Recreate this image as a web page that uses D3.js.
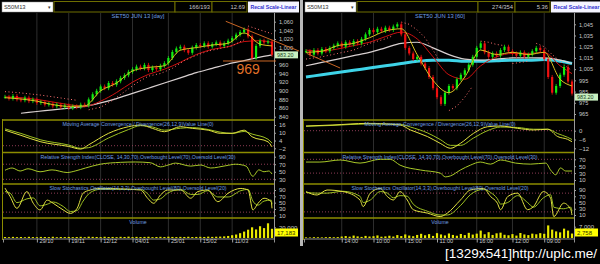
<!DOCTYPE html>
<html>
<head>
<meta charset="utf-8">
<script src="https://cdn.jsdelivr.net/npm/d3@7"></script>
<style>
body { margin: 0; background: #000; overflow: hidden; }
svg { display: block; }
text { font-family: Arial, "Liberation Sans", sans-serif; }
</style>
</head>
<body>
<svg id="chart" width="600" height="264"></svg>
<script>
// ---- left panel: daily bars ----
var leftClose = [886, 882, 888, 880, 878, 884, 876, 880, 872, 874,
                 868, 870, 864, 868, 862, 866, 860, 864, 862, 868,
                 866, 880, 892, 900, 910, 906, 918, 914, 922, 930,
                 936, 944, 950, 956, 952, 960, 948, 954, 950, 958,
                 964, 976, 990, 998, 1002, 994, 988, 1000, 1006, 1004,
                 1010, 1002, 1008, 1012, 1004, 1010, 1016, 1022, 1030, 1036,
                 1042, 1026, 976, 1004, 1016, 1012, 1014, 983.2]
var leftVolume = [1800, 1500, 2100, 1600, 1900, 1400, 2200, 1700, 1500, 2000,
                  1800, 1600, 2300, 1500, 1900, 1700, 2000, 1600, 1800, 2200,
                  1500, 2400, 2100, 1900, 1700, 2300, 1800, 2000, 1600, 2200,
                  1900, 2500, 1700, 2100, 1800, 2000, 2300, 1600, 1900, 2200,
                  1800, 2400, 2000, 1700, 2100, 1900, 2300, 1800, 2000, 2200,
                  1900, 2500, 2100, 2400, 2600, 3000, 3800, 5200, 6500, 9000,
                  12000, 15500, 20000, 16000, 22000, 18500, 27500, 17183]
var knots = [0, 4, 8, 12, 16, 20, 24, 28, 32, 36, 40, 44, 48, 52, 56, 60, 64, 67]
var leftFast = [884, 881, 876, 868, 864, 865, 900, 918, 946, 954, 958, 994, 1000, 1006, 1010, 1034, 1008, 1004]
var leftSlow = [886, 884, 880, 874, 868, 864, 876, 896, 920, 938, 950, 966, 984, 996, 1002, 1014, 1016, 1012]
var leftLong = [null, 848, 852, 856, 860, 864, 872, 882, 894, 906, 918, 930, 942, 952, 962, 970, 978, 983]
var leftSarIdx = [0, 3, 6, 9, 12, 15, 18, 20, 21, 24, 27, 30, 33, 36, 39, 42, 45, 48, 51, 54, 57, 60, 60.5, 61, 63, 65, 67]
var leftSar = [898, 896, 893, 890, 886, 882, 878, null, 856, 862, 878, 898, 918, 934, 940, 952, 970, 982, 992, 998, 1004, 1018, null, 1050, 1044, 1038, 1032]
var leftMacdIdx = [0, 4, 9, 16, 19, 21, 26, 31, 34, 37, 40, 44, 47, 51, 54, 57, 60, 62, 66, 67]
var leftMacd = [12, 8, 3, -0.6, -2.6, 0.7, 9.6, 14.7, 16, 13.4, 10.8, 14.7, 13.4, 12, 9.6, 9.6, 12, 6.9, 3, -0.9]
var leftSignal = [13, 9.5, 4.5, 0.5, -2, -1.5, 6, 12.5, 15.5, 14.5, 12, 13.5, 14, 12.5, 10.5, 9.5, 11, 9, 5, 2]
var leftRsiIdx = [0, 1.8, 3.8, 5.8, 8.8, 11.8, 15.6, 17.6, 20.2, 23.9, 29, 32.7, 36.5, 39, 41, 42.8, 46.6, 49.1, 51.6, 55.4, 57.9, 60.5, 62.2, 63.7, 65, 66.2, 67]
var leftRsi = [54, 60, 52, 58, 50, 55, 48, 52, 60, 70, 75, 76, 74, 63, 68, 73, 65, 68, 60, 66, 70, 65, 38, 55, 50, 52, 44]
var leftStochIdx = [0, 1.3, 3, 5.5, 7.1, 8.8, 10.6, 12.1, 14.6, 16.4, 18.1, 19.6, 21.4, 23.9, 34, 35.8, 37.3, 39, 40.8, 44.1, 46.6, 48.4, 50.9, 53.4, 56, 59.2, 61, 62.2, 63.5, 65, 66.8, 67]
var leftStochK = [96, 69, 32, 85, 48, 27, 58, 48, 27, 16, 32, 80, 90, 95, 90, 64, 48, 74, 90, 90, 64, 85, 90, 53, 80, 95, 90, 27, 48, 64, 53, 32]
var leftStochD = [85, 80, 50, 62, 65, 40, 45, 52, 38, 22, 25, 55, 82, 92, 92, 78, 58, 62, 80, 92, 76, 76, 88, 68, 68, 88, 92, 55, 42, 55, 58, 45]
var leftDateIdx = [8, 16, 24, 32, 41, 49, 57]
var leftDates = ["29/10", "19/11", "12/12", "04/01", "25/01", "15/02", "11/03"]
// 980 sits under the last-price box, so it is not shown
var leftPriceTicks = [840, 860, 880, 900, 920, 940, 960, 1000, 1020, 1040, 1060]

// ---- right panel: 60 minute bars ----
var rightClose = [1021, 1018, 1022, 1019, 1023, 1021, 1024, 1026, 1028, 1025,
                  1029, 1027, 1030, 1028, 1032, 1036, 1040, 1038, 1041, 1039,
                  1042, 1040, 1043, 1045, 1036, 1024, 1019, 1014, 1016, 1010,
                  1006, 998, 988, 980, 974, 984, 990, 988, 996, 1000,
                  1004, 1009, 1016, 1024, 1028, 1020, 1016, 1019, 1017, 1022,
                  1025, 1021, 1019, 1017, 1020, 1016, 1018, 1021, 1024, 1022,
                  1014, 998, 984, 990, 1000, 1007, 994, 983.2]
var rightVolume = [400, 350, 500, 450, 380, 520, 600, 480, 550, 900,
                   1200, 800, 1500, 1000, 700, 1300, 900, 1100, 1600, 800,
                   1000, 1400, 900, 1800, 1200, 2200, 1500, 1100, 1900, 2600,
                   1700, 2400, 1300, 3000, 2200, 1600, 2800, 1900, 1400, 2500,
                   1800, 3200, 2100, 2700, 4600, 2300, 3600, 1900, 2900, 3300,
                   2000, 1700, 2400, 1500, 3100, 2200, 1800, 2700, 2300, 3000,
                   2600, 7800, 5200, 4100, 3500, 5800, 4600, 2758]
var rightFast = [1020, 1021, 1026, 1028, 1033, 1039, 1041, 1018, 995, 984, 998, 1022, 1018, 1020, 1018, 1020, 996, 990]
var rightSlow = [1022, 1021, 1023, 1026, 1029, 1034, 1038, 1032, 1016, 1000, 996, 1008, 1016, 1019, 1019, 1020, 1008, 1001]
var rightLong = [1008, 1011, 1014, 1017, 1020, 1024, 1028, 1029, 1024, 1018, 1014, 1013, 1014, 1015, 1015, 1015, 1013, 1010]
var rightCyan = [998, 1000, 1002, 1004, 1006, 1008, 1010, 1012, 1013, 1013, 1012, 1012, 1012.5, 1013, 1013, 1013.5, 1012, 1010]
var rightSarIdx = [0, 4, 8, 12, 16, 20, 22, 23, 24, 26, 28, 30, 32, 34, 35, 36, 38, 40, 42, 43, 44, 46, 48, 50, 51, 52, 54, 56, 57, 58, 60, 62, 64, 66, 67]
var rightSar = [1014, 1016, 1019, 1022, 1028, 1032, 1035, null, 1047, 1045, 1040, 1033, 1022, 1010, null, 968, 972, 980, 990, null, 1030, 1029, 1027, 1026, null, 1010, 1011, 1012, null, 1028, 1025, 1018, 1012, 1006, 1004]
var rightMacdIdx = [0, 6.8, 15.4, 23.7, 26.3, 30.6, 33.8, 36.4, 38.9, 42.2, 45.7, 49, 53.3, 57.3, 60.9, 63.4, 65.9, 67]
var rightMacd = [3.2, 3.9, 5, 3.9, 0.5, -4, -8.6, -12, -8.6, -1.8, 2.7, 3.2, 1.6, 0.5, 1, -4, -5.9, -7.5]
var rightSignal = [3, 3.6, 4.6, 4.4, 2.5, -1.5, -6, -10, -10, -5, 0, 2.5, 2.2, 1, 1, -2, -4.5, -6]
var rightRsiIdx = [0, 3.5, 8.6, 13.6, 18.7, 21.2, 23.7, 28.8, 33.8, 35.1, 36.4, 38.9, 41.4, 43.9, 46.5, 49, 52.8, 56.6, 60.4, 61.6, 62.9, 64.1, 65.4, 67]
var rightRsi = [62, 62, 68, 59, 70, 70, 53, 39, 30, 19, 22, 39, 53, 62, 56, 68, 59, 56, 59, 39, 25, 45, 36, 36]
var rightStochIdx = [0, 2.8, 5.3, 9.3, 13.6, 14.4, 16.2, 18.7, 20.5, 22, 23.7, 25.5, 27, 30.6, 33.8, 35.6, 38.9, 41.4, 44.7, 46.5, 48.2, 49, 50.8, 53.3, 55.8, 57.3, 59.8, 61.6, 62.4, 64.9, 66.7, 67]
var rightStochK = [85, 74, 90, 85, 58, 37, 80, 95, 69, 58, 85, 58, 27, 16, 5, 16, 58, 90, 95, 69, 48, 27, 69, 80, 27, 37, 85, 64, 5, 48, 27, 10]
var rightStochD = [82, 80, 80, 86, 70, 50, 58, 85, 80, 65, 72, 70, 45, 22, 10, 10, 40, 75, 92, 82, 62, 45, 50, 72, 50, 35, 65, 75, 35, 30, 35, 22]
var rightDateIdx = [9, 17, 25, 33, 43, 52, 60]
var rightDates = ["14:00", "10:00", "15:00", "11:00", "16:00", "12:00", "09:00"]
var rightPriceTicks = [965, 975, 985, 995, 1005, 1015, 1025, 1035, 1045]

var svg = d3.select("#chart");
svg.append("rect").attr("width", 600).attr("height", 264).attr("fill", "#000");

var axisColor = "#c8c8c8";
var titleColor = "#6f9fe0";
var olive = "#8c8c00";

function pairs(idx, vals) {
    return idx.map(function(k, i) { return [k, vals[i]] });
}

function styleAxis(a, size) {
    a.select(".domain").remove();
    a.selectAll("line").attr("stroke", "#a0a0a0");
    a.selectAll("text").attr("fill", axisColor).attr("font-size", size || 6)
        .attr("font-family", "Arial, sans-serif");
}

function drawPanel(p) {
    var n = p.close.length;
    var x = d3.scaleLinear().domain([-0.5, n - 0.5]).range([p.x0, p.x1]);
    var bw = (p.x1 - p.x0) / n * 0.55;
    var g = svg.append("g");

    var panes = {
        price: [13, 119], macd: [121, 152], rsi: [153.5, 183], stoch: [185, 217], vol: [219, 238]
    };
    Object.keys(panes).forEach(function(k) {
        g.append("clipPath").attr("id", p.id + k)
            .append("rect").attr("x", p.x0).attr("y", panes[k][0])
            .attr("width", p.x1 - p.x0).attr("height", panes[k][1] - panes[k][0]);
    });

    // vertical grid at the date ticks
    g.selectAll(".vgrid").data(p.dateIdx).enter().append("line")
        .attr("x1", function(d) { return x(d) }).attr("x2", function(d) { return x(d) })
        .attr("y1", 13).attr("y2", 238)
        .attr("stroke", "#2e2e2e").attr("stroke-width", 1);

    // ---------- price ----------
    var yP = d3.scaleLinear().domain(p.priceDom).range(p.priceRange);
    var pg = g.append("g").attr("clip-path", "url(#" + p.id + "price)");

    var kline = d3.line()
        .defined(function(d) { return d[1] != null })
        .x(function(d) { return x(d[0]) })
        .y(function(d) { return yP(d[1]) })
        .curve(d3.curveMonotoneX);

    if (p.cyan) {
        pg.append("path").datum(pairs(knots, p.cyan)).attr("d", kline)
            .attr("fill", "none").attr("stroke", "#3ed4e8").attr("stroke-width", 3);
    }
    pg.append("path").datum(pairs(knots, p.long)).attr("d", kline)
        .attr("fill", "none").attr("stroke", "#d8d0d0").attr("stroke-width", 1.2);
    pg.append("path").datum(pairs(knots, p.slow)).attr("d", kline)
        .attr("fill", "none").attr("stroke", "#d01010").attr("stroke-width", 1);
    pg.append("path").datum(pairs(p.sarIdx, p.sar)).attr("d", kline.curve(d3.curveLinear))
        .attr("fill", "none").attr("stroke", "#ff7070").attr("stroke-width", 1)
        .attr("stroke-dasharray", "1,2.5");
    kline.curve(d3.curveMonotoneX);

    var candles = pg.selectAll(".candle").data(p.close).enter().append("g");
    function openOf(i) { return i > 0 ? p.close[i - 1] : p.close[0] }
    function colorOf(d, i) { return d >= openOf(i) ? "#10f010" : "#f01010" }
    candles.append("line")
        .attr("x1", function(d, i) { return x(i) }).attr("x2", function(d, i) { return x(i) })
        .attr("y1", function(d, i) { return yP(Math.max(d, openOf(i))) - 2 })
        .attr("y2", function(d, i) { return yP(Math.min(d, openOf(i))) + 2 })
        .attr("stroke", colorOf).attr("stroke-width", 0.8);
    candles.append("rect")
        .attr("x", function(d, i) { return x(i) - bw / 2 })
        .attr("y", function(d, i) { return yP(Math.max(d, openOf(i))) })
        .attr("width", bw)
        .attr("height", function(d, i) { return Math.max(1, Math.abs(yP(d) - yP(openOf(i)))) })
        .attr("fill", colorOf);

    pg.append("path").datum(pairs(knots, p.fast)).attr("d", kline)
        .attr("fill", "none").attr("stroke", "#d8c020").attr("stroke-width", 1);

    g.append("text").attr("x", p.titleX).attr("y", 18).attr("text-anchor", "middle")
        .attr("fill", titleColor).attr("font-size", 5.8).text(p.title);

    var pa = g.append("g").attr("transform", "translate(" + p.x1 + ",0)")
        .call(d3.axisRight(yP).tickValues(p.priceTicks).tickSize(2).tickFormat(d3.format(",")));
    styleAxis(pa, 5.6);

    // ---------- indicator panes ----------
    function pane(key, dom, range, ticks, dots, series, title) {
        var y = d3.scaleLinear().domain(dom).range(range);
        var cg = g.append("g").attr("clip-path", "url(#" + p.id + key + ")");
        cg.selectAll(".dot").data(dots).enter().append("line")
            .attr("x1", p.x0).attr("x2", p.x1)
            .attr("y1", function(d) { return y(d) }).attr("y2", function(d) { return y(d) })
            .attr("stroke", "#b04a6a").attr("stroke-width", 0.8).attr("stroke-dasharray", "1,2");
        var line = d3.line()
            .x(function(d) { return x(d[0]) })
            .y(function(d) { return y(d[1]) })
            .curve(d3.curveMonotoneX);
        series.forEach(function(s) {
            cg.append("path").datum(pairs(s.idx, s.vals)).attr("d", line)
                .attr("fill", "none").attr("stroke", s.color).attr("stroke-width", 1);
        });
        g.append("text").attr("x", p.titleX).attr("y", panes[key][0] + 5).attr("text-anchor", "middle")
            .attr("fill", titleColor).attr("font-size", 5.2).text(title);
        var a = g.append("g").attr("transform", "translate(" + p.x1 + ",0)")
            .call(d3.axisRight(y).tickValues(ticks).tickSize(2));
        styleAxis(a);
    }

    pane("macd", p.macdDom, p.macdRange, p.macdTicks, [0], [
        { idx: p.macdIdx, vals: p.signal, color: "#9cc020" },
        { idx: p.macdIdx, vals: p.macd, color: "#e0e040" }
    ], "Moving Average Convergence / Divergence(26,12,9)Value Line(0)");

    pane("rsi", p.rsiDom, p.rsiRange, p.rsiTicks, [30, 70], [
        { idx: p.rsiIdx, vals: p.rsi, color: "#a8c828" }
    ], "Relative Strength Index(CLOSE, 14,30,70),Overbought Level(70),Oversold Level(30)");

    pane("stoch", [10, 90], p.stochRange, [10, 30, 50, 70, 90], [20, 80], [
        { idx: p.stochIdx, vals: p.stochD, color: "#9cc020" },
        { idx: p.stochIdx, vals: p.stochK, color: "#e0e040" }
    ], "Slow Stochastics Oscillator(14,3,3),Overbought Level(80),Oversold Level(20)");

    // ---------- volume ----------
    var yV = d3.scaleLinear().domain([0, p.volMax]).range([238, p.volTop]);
    var vg = g.append("g").attr("clip-path", "url(#" + p.id + "vol)");
    vg.selectAll(".vol").data(p.volume).enter().append("rect")
        .attr("x", function(d, i) { return x(i) - bw / 2 })
        .attr("y", function(d) { return yV(d) })
        .attr("width", bw)
        .attr("height", function(d) { return 238 - yV(d) })
        .attr("fill", "#e8e800");
    g.append("text").attr("x", p.titleX).attr("y", panes.vol[0] + 5).attr("text-anchor", "middle")
        .attr("fill", titleColor).attr("font-size", 5.2).text("Volume");
    var va = g.append("g").attr("transform", "translate(" + p.x1 + ",0)")
        .call(d3.axisRight(yV).tickValues([p.volMax]).tickSize(2).tickFormat(d3.format(",")));
    styleAxis(va);

    // pane separators
    g.selectAll(".sep").data([120, 152.5, 184, 218]).enter().append("line")
        .attr("x1", p.x0 - 1).attr("x2", p.x1)
        .attr("y1", function(d) { return d }).attr("y2", function(d) { return d })
        .attr("stroke", olive).attr("stroke-width", 1.6);
    g.append("line").attr("x1", p.x0 - 0.5).attr("x2", p.x0 - 0.5).attr("y1", 119).attr("y2", 240)
        .attr("stroke", olive).attr("stroke-width", 1);
    g.append("line").attr("x1", p.x1 + 0.5).attr("x2", p.x1 + 0.5).attr("y1", 13).attr("y2", 240)
        .attr("stroke", "#9a9a9a").attr("stroke-width", 1);

    // date axis
    var da = g.append("g").attr("transform", "translate(0,238.5)")
        .call(d3.axisBottom(x).tickValues(p.dateIdx).tickSize(4)
            .tickFormat(function(d, i) { return p.dates[i] }));
    da.select(".domain").attr("stroke", "#909090");
    da.selectAll("line").attr("stroke", "#a0a0a0");
    da.selectAll("text").attr("fill", axisColor).attr("font-size", 5.6)
        .attr("text-anchor", "start").attr("dx", 2).attr("dy", -2.4)
        .attr("font-family", "Arial, sans-serif");

    // value boxes on the axis
    var ly = yP(p.close[n - 1]) + p.lastShift;
    g.append("rect").attr("x", p.x1 + 1).attr("y", ly - 3.5).attr("width", 23).attr("height", 7)
        .attr("fill", "#c8f0c0");
    g.append("text").attr("x", p.x1 + 3).attr("y", ly + 1.9).attr("fill", "#204020")
        .attr("font-size", 5.4).text(d3.format(".2f")(p.close[n - 1]));
    g.append("rect").attr("x", p.x1 + 1).attr("y", 228.5).attr("width", 23).attr("height", 8)
        .attr("fill", "#ffff00");
    g.append("text").attr("x", p.x1 + 3).attr("y", 234.6).attr("fill", "#303000")
        .attr("font-size", 6).text(d3.format(",")(p.volume[n - 1]));

    // header strip
    var hx = p.hx;
    g.append("rect").attr("x", hx).attr("y", 2).attr("width", 51).attr("height", 10)
        .attr("fill", "#fff").attr("stroke", "#909090").attr("stroke-width", 0.5);
    g.append("text").attr("x", hx + 2).attr("y", 9.4).attr("fill", "#333").attr("font-size", 5.8).text("S50M13");
    g.append("text").attr("x", hx + 46).attr("y", 9.4).attr("fill", "#333").attr("font-size", 5).text("▾");
    [[52, 121, ""], [173, 37, p.count], [210, 35, p.change]].forEach(function(b) {
        g.append("rect").attr("x", hx + b[0]).attr("y", 1.5).attr("width", b[1]).attr("height", 10.5)
            .attr("fill", "#000").attr("stroke", "#6e6e00").attr("stroke-width", 1);
        g.append("text").attr("x", hx + b[0] + b[1] - 2).attr("y", 9.2).attr("text-anchor", "end")
            .attr("fill", "#c8c8c8").attr("font-size", 5.8).text(b[2]);
    });
    g.append("rect").attr("x", hx + 246).attr("y", 1.5).attr("width", 51).attr("height", 11)
        .attr("fill", "#f4f4ff");
    g.append("text").attr("x", hx + 271.5).attr("y", 9.2).attr("text-anchor", "middle")
        .attr("fill", "#2f2fd0").attr("font-size", 5.4).attr("font-weight", "bold")
        .attr("textLength", 46).attr("lengthAdjust", "spacingAndGlyphs")
        .text("Recal Scale-Linear");

    return { x: x, y: yP, g: g };
}

var left = drawPanel({
    id: "L", x0: 3, x1: 274, hx: 2, titleX: 138,
    close: leftClose, volume: leftVolume,
    fast: leftFast, slow: leftSlow, long: leftLong, cyan: null,
    sarIdx: leftSarIdx, sar: leftSar,
    priceDom: [840, 1060], priceRange: [116.7, 21.7], priceTicks: leftPriceTicks, lastShift: 0,
    title: "SET50 JUN 13   [day]",
    macdIdx: leftMacdIdx, macd: leftMacd, signal: leftSignal,
    macdDom: [-2, 16], macdRange: [148.3, 125], macdTicks: [-2, 4, 10, 16],
    rsiIdx: leftRsiIdx, rsi: leftRsi, rsiDom: [30, 90], rsiRange: [179.3, 156.7], rsiTicks: [30, 50, 70, 90],
    stochIdx: leftStochIdx, stochK: leftStochK, stochD: leftStochD, stochRange: [215.3, 190],
    volMax: 20000, volTop: 227.3,
    dateIdx: leftDateIdx, dates: leftDates,
    count: "166/193", change: "12.69"
});

var right = drawPanel({
    id: "R", x0: 304, x1: 574, hx: 305, titleX: 440,
    close: rightClose, volume: rightVolume,
    fast: rightFast, slow: rightSlow, long: rightLong, cyan: rightCyan,
    sarIdx: rightSarIdx, sar: rightSar,
    priceDom: [965, 1045], priceRange: [114, 24.3], priceTicks: rightPriceTicks, lastShift: 3.5,
    title: "SET50 JUN 13   [60]",
    macdIdx: rightMacdIdx, macd: rightMacd, signal: rightSignal,
    macdDom: [-12, 0], macdRange: [148.3, 130.7], macdTicks: [-12, -6, 0],
    rsiIdx: rightRsiIdx, rsi: rightRsi, rsiDom: [10, 70], rsiRange: [180, 159.3], rsiTicks: [10, 30, 50, 70],
    stochIdx: rightStochIdx, stochK: rightStochK, stochD: rightStochD, stochRange: [215, 190],
    volMax: 7000, volTop: 226.7,
    dateIdx: rightDateIdx, dates: rightDates,
    count: "274/354", change: "5.36"
});

// hand drawn annotations (orange)
var orange = "#e07028";
left.g.append("line")
    .attr("x1", left.x(55.4)).attr("y1", left.y(1061))
    .attr("x2", left.x(73.8)).attr("y2", left.y(992))
    .attr("stroke", orange).attr("stroke-width", 0.9);
left.g.append("line")
    .attr("x1", left.x(54.7)).attr("y1", left.y(969))
    .attr("x2", left.x(68)).attr("y2", left.y(969))
    .attr("stroke", orange).attr("stroke-width", 0.9);
left.g.append("text").attr("x", left.x(61)).attr("y", left.y(969) + 13)
    .attr("text-anchor", "middle").attr("fill", orange).attr("font-size", 14).text("969");
right.g.append("line")
    .attr("x1", right.x(0.2)).attr("y1", right.y(1019))
    .attr("x2", right.x(8.6)).attr("y2", right.y(1006))
    .attr("stroke", orange).attr("stroke-width", 0.9);

// divider between the two windows
svg.append("rect").attr("x", 300).attr("y", 0).attr("width", 3).attr("height", 246).attr("fill", "#b8b8b8");

// watermark
svg.append("text").attr("x", 445).attr("y", 258)
    .attr("font-family", "DejaVu Sans Mono, monospace").attr("font-size", 13)
    .attr("fill", "#ffffff").attr("textLength", 152).attr("lengthAdjust", "spacingAndGlyphs")
    .text("[1329x541]http://uplc.me/");
</script>
</body>
</html>
